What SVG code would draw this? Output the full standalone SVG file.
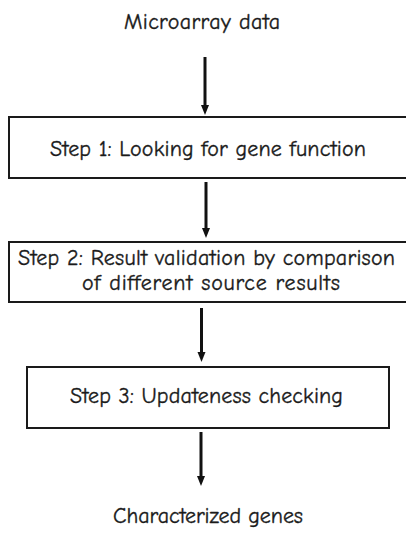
<svg xmlns="http://www.w3.org/2000/svg" width="406" height="534" viewBox="0 0 406 534">
  <style>
    .bg { fill: #ffffff; }
    .box { fill: #ffffff; stroke: #1a1a1a; stroke-width: 2; }
    .label { font-family: "Comic Neue", "Noto Sans", "DejaVu Sans", sans-serif; font-size: 22px; fill: #1a1a1a; stroke: #1a1a1a; stroke-width: 0.35; text-anchor: middle; }
    .flow { stroke: #111111; stroke-width: 3; fill: none; }
    .head { fill: #111111; }
  </style>
  <rect class="bg" x="0" y="0" width="406" height="534"/>

  <g id="input">
    <text class="label" x="202" y="29" textLength="156">Microarray data</text>
  </g>

  <g id="step1">
    <rect class="box" x="9" y="117" width="400" height="61"/>
    <text class="label" x="208" y="156" textLength="316">Step 1: Looking for gene function</text>
  </g>

  <g id="step2">
    <rect class="box" x="9" y="242" width="400" height="60"/>
    <text class="label" x="206.5" y="265" textLength="377">Step 2: Result validation by comparison</text>
    <text class="label" x="211" y="290" textLength="258">of different source results</text>
  </g>

  <g id="step3">
    <rect class="box" x="27" y="367" width="362" height="61"/>
    <text class="label" x="206.5" y="403" textLength="273">Step 3: Updateness checking</text>
  </g>

  <g id="output">
    <text class="label" x="208" y="523" textLength="190">Characterized genes</text>
  </g>

  <g id="connectors">
    <line class="flow" x1="205" y1="57" x2="205" y2="106"/>
    <path class="head" d="M201,105 L209,105 L205,115 Z"/>
    <line class="flow" x1="206" y1="182" x2="206" y2="229"/>
    <path class="head" d="M202,228 L210,228 L206,238 Z"/>
    <line class="flow" x1="201.5" y1="308" x2="201.5" y2="353"/>
    <path class="head" d="M197.5,352 L205.5,352 L201.5,362 Z"/>
    <line class="flow" x1="201" y1="432" x2="201" y2="477"/>
    <path class="head" d="M197,476 L205,476 L201,486 Z"/>
  </g>
</svg>
